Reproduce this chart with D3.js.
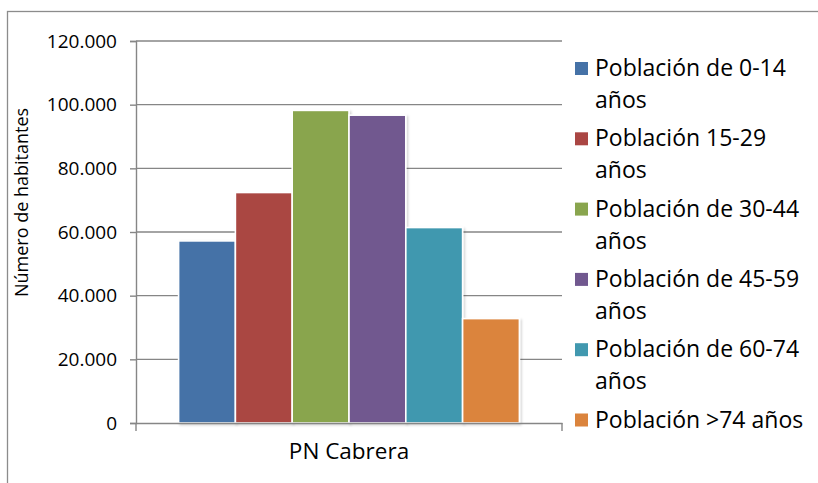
<!DOCTYPE html>
<html>
<head>
<meta charset="utf-8">
<script src="https://cdn.jsdelivr.net/npm/d3@7"></script>
<style>
  html, body { margin: 0; padding: 0; background: #fff; }
  svg { display: block; }
  text { font-family: "Open Sans", "Noto Sans", sans-serif; fill: #000; }
</style>
</head>
<body>
<div id="chart"></div>
<script>
const categories = ["PN Cabrera"];
const seriesNames = [
  "Población de 0-14 años",
  "Población 15-29 años",
  "Población de 30-44 años",
  "Población de 45-59 años",
  "Población de 60-74 años",
  "Población >74 años"
];
const legendLines = [
  ["Población de 0-14", "años"],
  ["Población 15-29", "años"],
  ["Población de 30-44", "años"],
  ["Población de 45-59", "años"],
  ["Población de 60-74", "años"],
  ["Población >74 años"]
];
const seriesValues = [57200, 72400, 98200, 96700, 61400, 32800];
const seriesColors = ["#4572A7", "#AA4643", "#89A54E", "#71588F", "#4198AF", "#DB843D"];
const yTicks = [0, 20000, 40000, 60000, 80000, 100000, 120000];
const yTickLabels = ["0", "20.000", "40.000", "60.000", "80.000", "100.000", "120.000"];
const yTitle = "Número de habitantes";

const W = 818, H = 483;
const svg = d3.select("#chart").append("svg").attr("width", W).attr("height", H);

const defs = svg.append("defs");
const f = defs.append("filter").attr("id", "sh").attr("x", "-10%").attr("y", "-10%").attr("width", "130%").attr("height", "130%");
f.append("feDropShadow").attr("dx", 1.5).attr("dy", 1.5).attr("stdDeviation", 1.2)
  .attr("flood-color", "#000").attr("flood-opacity", 0.18);

// outer frame (right/bottom are off the picture)
svg.append("rect").attr("x", 7.5).attr("y", 11.5).attr("width", 830).attr("height", 490)
  .attr("fill", "none").attr("stroke", "#8c8c8c").attr("stroke-width", 1.3);

const plot = { left: 136, right: 562, top: 41, bottom: 423 };
const grey = "#868686";

const y = d3.scaleLinear().domain([0, 120000]).range([plot.bottom, plot.top]);
const x0 = d3.scaleBand().domain(categories).range([plot.left, plot.right])
  .paddingInner(0.2).paddingOuter(0.1);
const x1 = d3.scaleBand().domain(seriesNames).range([0, x0.bandwidth()]);

// gridlines
svg.append("g").selectAll("line").data(yTicks.filter(d => d > 0)).join("line")
  .attr("x1", plot.left).attr("x2", plot.right)
  .attr("y1", d => y(d)).attr("y2", d => y(d))
  .attr("stroke", grey).attr("stroke-width", 1.4);

// y axis
const yAxis = d3.axisLeft(y).tickValues(yTicks).tickSize(6).tickPadding(13)
  .tickFormat((d, i) => yTickLabels[i]);
const gy = svg.append("g").attr("transform", `translate(${plot.left},0)`).call(yAxis);
gy.select(".domain").attr("stroke", grey).attr("stroke-width", 1.4);
gy.selectAll(".tick line").attr("stroke", grey).attr("stroke-width", 1.4);
gy.selectAll(".tick text").attr("font-size", 19).attr("font-family", "Open Sans").attr("fill", "#000");

// bars
const gBars = svg.append("g");
categories.forEach(cat => {
  gBars.selectAll("rect.b").data(seriesNames).join("rect").attr("class", "b")
    .attr("x", d => x0(cat) + x1(d))
    .attr("width", x1.bandwidth())
    .attr("y", (d, i) => y(seriesValues[i]))
    .attr("height", (d, i) => y(0) - y(seriesValues[i]))
    .attr("fill", (d, i) => seriesColors[i])
    .attr("stroke", "#fff").attr("stroke-width", 1.6)
    .attr("filter", "url(#sh)");
});

// x axis
const xAxis = d3.axisBottom(x0).tickSize(0).tickPadding(20);
const gx = svg.append("g").attr("transform", `translate(0,${plot.bottom})`).call(xAxis);
gx.select(".domain").attr("stroke", grey).attr("stroke-width", 1.4);
gx.selectAll(".tick text").attr("font-size", 22.5).attr("font-family", "Open Sans").attr("fill", "#000");
// end tick marks on x axis
gx.selectAll("line.edge").data(x0.range()).join("line").attr("class", "edge")
  .attr("x1", d => d).attr("x2", d => d).attr("y1", 0).attr("y2", 8)
  .attr("stroke", grey).attr("stroke-width", 1.4);

// y title
svg.append("text")
  .attr("transform", `translate(28,202.5) rotate(-90)`)
  .attr("text-anchor", "middle")
  .attr("font-size", 18)
  .text(yTitle);

// legend
const legStart = 76, legStep = 70.3, lineStep = 32;
const lg = svg.append("g");
seriesNames.forEach((name, i) => {
  const by = legStart + i * legStep;
  lg.append("rect").attr("x", 575).attr("y", by - 14).attr("width", 13).attr("height", 13)
    .attr("fill", seriesColors[i]);
  const t = lg.append("text").attr("x", 595).attr("y", by).attr("font-size", 23);
  legendLines[i].forEach((ln, j) => {
    t.append("tspan").attr("x", 595).attr("y", by + j * lineStep).text(ln);
  });
});
</script>
</body>
</html>
